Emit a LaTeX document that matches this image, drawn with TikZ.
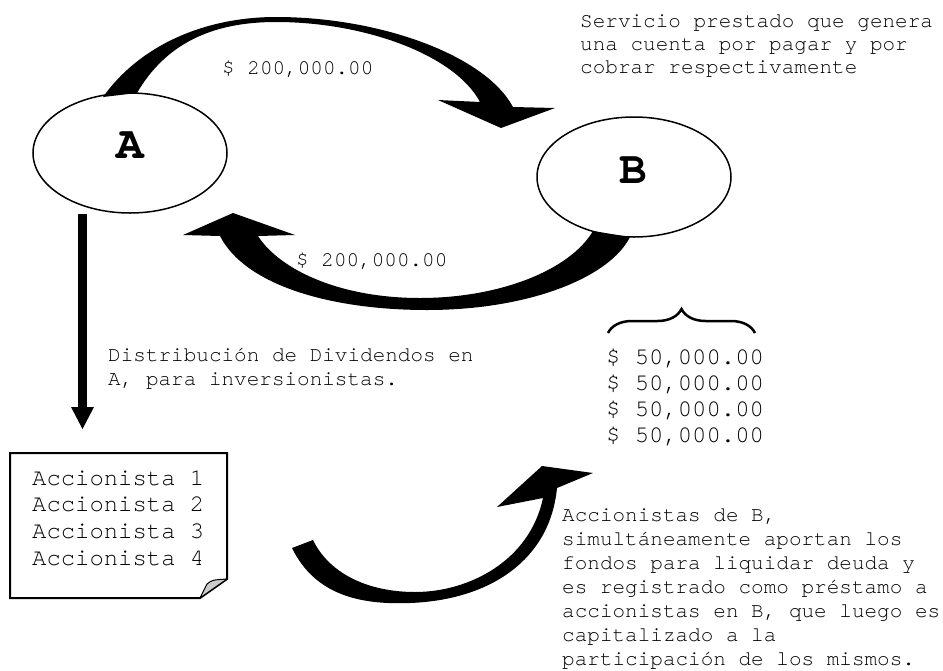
\documentclass[tikz,border=0pt]{standalone}
\usepackage{fontspec}
\newfontfamily\cur{TeX Gyre Cursor}
\usetikzlibrary{shapes.geometric,decorations.pathreplacing}
\begin{document}
\begin{tikzpicture}[x=1pt,y=-1pt,
  txt/.style={anchor=base west,inner sep=0pt,font=\cur\fontsize{21}{24}\selectfont},
  bigtxt/.style={anchor=base west,inner sep=0pt,font=\cur\fontsize{23.9}{26}\selectfont},
  ell/.style={draw,ellipse,line width=1.5pt,minimum width=194pt,minimum height=120pt,inner sep=0pt},
  letter/.style={inner sep=0pt,font=\cur\bfseries\fontsize{46}{46}\selectfont},
  bigarrow/.style={fill=black}]
\useasboundingbox (0,0) rectangle (943,670);
\fill[white] (0,0) rectangle (943,670);

% ellipses
\node[ell] (A) at (130,153) {};
\node[ell] (B) at (634,177) {};
\node[letter] (Alab) at (130,145) {A};
\node[letter] (Blab) at (633,170) {B};

% top curved arrow A -> B
\fill[bigarrow] (103,97) .. controls (140,45) and (205,17) .. (276,17)
  .. controls (380,17) and (485,55) .. (513,107)
  -- (555,108) -- (501,128) -- (438,100) -- (480,102)
  .. controls (455,55) and (365,22) .. (276,22)
  .. controls (210,22) and (165,45) .. (137,93) -- cycle;

% bottom curved arrow B -> A
\fill[bigarrow] (630,237) .. controls (610,277) and (530,310) .. (427,310)
  .. controls (330,310) and (245,285) .. (220,236)
  -- (183,235) -- (233,213) -- (295,235) -- (258,236)
  .. controls (280,270) and (340,298) .. (420,298)
  .. controls (500,298) and (570,270) .. (593,231) -- cycle;

% vertical arrow
\coordinate (vtop) at (82.5,214);
\coordinate (vend) at (82.5,408);
\draw[line width=8.5pt] (vtop) -- (vend);
\fill (71,407) -- (94,407) -- (82.5,429) -- cycle;

% lower curved arrow (accionistas)
\fill[bigarrow] (292,548) .. controls (315,595) and (360,605) .. (410,603)
  .. controls (490,600) and (550,560) .. (557,488)
  -- (593,473) -- (542,466) -- (497,507) -- (543,498)
  .. controls (530,560) and (470,592) .. (415,592)
  .. controls (370,592) and (330,575) .. (313,540) -- cycle;

% note box with folded corner
\draw[line width=2pt,line join=miter] (10,453) -- (227,453) -- (227,579) -- (200,598) -- (10,598) -- cycle;
\filldraw[fill=gray!40,line width=1pt,line join=round] (200,598) -- (207,584) .. controls (212,580) .. (227,579) -- cycle;

% brace
\draw[line width=2.5pt,decorate,decoration={brace,amplitude=24pt}] (608,333) -- (755,333);

% texts
\node[txt] (s1) at (580,27.5) {Servicio prestado que genera};
\node[txt] (s2) at (580,50.5) {una cuenta por pagar y por};
\node[txt] (s3) at (580,73.5) {cobrar respectivamente};

\node[txt] (m1) at (222,74) {\$ 200,000.00};
\node[txt] (m2) at (296,266) {\$ 200,000.00};

\node[txt] (d1) at (108,361) {Distribución de Dividendos en};
\node[txt] (d2) at (108,385) {A, para inversionistas.};

\node[bigtxt] (a1) at (32,485) {Accionista 1};
\node[bigtxt] (a2) at (32,511) {Accionista 2};
\node[bigtxt] (a3) at (32,538) {Accionista 3};
\node[bigtxt] (a4) at (32,565) {Accionista 4};

\node[bigtxt] (f1) at (606,364) {\$ 50,000.00};
\node[bigtxt] (f2) at (606,390) {\$ 50,000.00};
\node[bigtxt] (f3) at (606,416) {\$ 50,000.00};
\node[bigtxt] (f4) at (606,442) {\$ 50,000.00};

\node[txt] (b1) at (562,521) {Accionistas de B,};
\node[txt] (b2) at (562,545) {simultáneamente aportan los};
\node[txt] (b3) at (562,569) {fondos para liquidar deuda y};
\node[txt] (b4) at (562,593) {es registrado como préstamo a};
\node[txt] (b5) at (562,617) {accionistas en B, que luego es};
\node[txt] (b6) at (562,641) {capitalizado a la};
\node[txt] (b7) at (562,665) {participación de los mismos.};
\end{tikzpicture}
\end{document}
